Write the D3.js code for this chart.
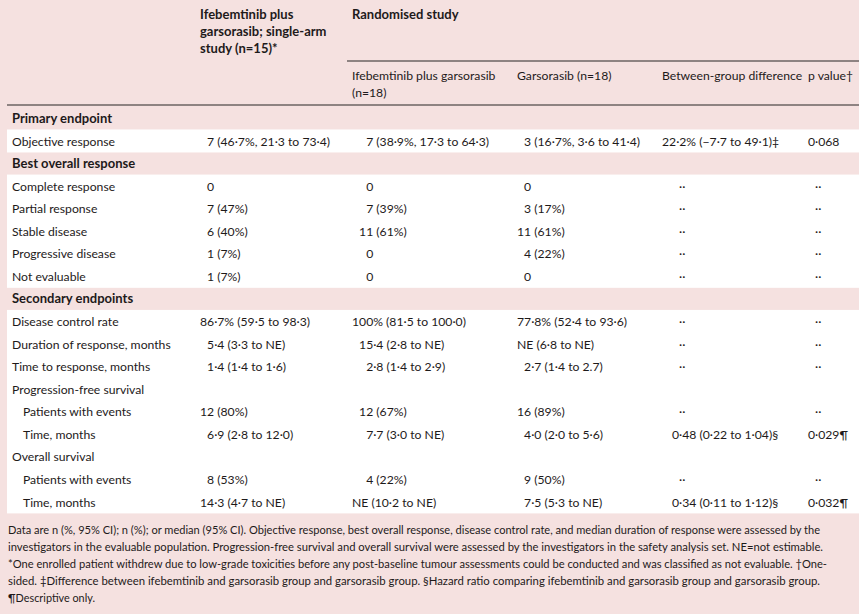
<!DOCTYPE html>
<html><head><meta charset="utf-8">
<script src="https://cdn.jsdelivr.net/npm/d3@7"></script>
<style>
html,body{margin:0;padding:0;background:#f5e1e0;}
svg{display:block;}
text{font-family:Lato,"Liberation Sans",sans-serif;fill:#1e1a1a;}
</style>
</head><body>
<svg id="chart" width="859" height="614"></svg>
<script>
// ---------- data ----------
const FS = "\u2007"; // figure space (digit width)
const PS = "\u2008"; // punctuation space

const columns = ["label", "single", "combo", "garso", "diff", "p"];

const headerSingleArm = ["Ifebemtinib plus", "garsorasib; single-arm", "study (n=15)*"];
const headerRandomised = ["Randomised study"];
const subHeaders = {
  combo: ["Ifebemtinib plus garsorasib", "(n=18)"],
  garso: ["Garsorasib (n=18)"],
  diff: ["Between-group difference"],
  p: ["p value\u2020"]
};

const rowLabels = [
  "Primary endpoint", "Objective response",
  "Best overall response", "Complete response", "Partial response", "Stable disease",
  "Progressive disease", "Not evaluable",
  "Secondary endpoints", "Disease control rate", "Duration of response, months",
  "Time to response, months", "Progression-free survival", "Patients with events",
  "Time, months", "Overall survival", "Patients with events", "Time, months"
];
const rowKinds = [
  "section", "row",
  "section", "row", "row", "row", "row", "row",
  "section", "row", "row", "row", "row", "sub", "sub", "row", "sub", "sub"
];

const colSingleArm = [
  "", FS + "7 (46·7%, 21·3 to 73·4)",
  "", FS + "0", FS + "7 (47%)", FS + "6 (40%)", FS + "1 (7%)", FS + "1 (7%)",
  "", "86·7% (59·5 to 98·3)", FS + "5·4 (3·3 to NE)", FS + "1·4 (1·4 to 1·6)", "",
  "12 (80%)", FS + "6·9 (2·8 to 12·0)", "", FS + "8 (53%)", "14·3 (4·7 to NE)"
];
const colCombo = [
  "", FS + FS + "7 (38·9%, 17·3 to 64·3)",
  "", FS + FS + "0", FS + FS + "7 (39%)", FS + "11 (61%)", FS + FS + "0", FS + FS + "0",
  "", "100% (81·5 to 100·0)", FS + "15·4 (2·8 to NE)", FS + FS + "2·8 (1·4 to 2·9)", "",
  FS + "12 (67%)", FS + FS + "7·7 (3·0 to NE)", "", FS + FS + "4 (22%)", "NE (10·2 to NE)"
];
const colGarso = [
  "", FS + "3 (16·7%, 3·6 to 41·4)",
  "", FS + "0", FS + "3 (17%)", "11 (61%)", FS + "4 (22%)", FS + "0",
  "", "77·8% (52·4 to 93·6)", "NE (6·8 to NE)", FS + "2·7 (1·4 to 2.7)", "",
  "16 (89%)", FS + "4·0 (2·0 to 5·6)", "", FS + "9 (50%)", FS + "7·5 (5·3 to NE)"
];
const DOTS_D = FS + FS + PS + "··";
const colDiff = [
  "", "22·2% (\u22127·7 to 49·1)\u2021",
  "", DOTS_D, DOTS_D, DOTS_D, DOTS_D, DOTS_D,
  "", DOTS_D, DOTS_D, DOTS_D, "",
  DOTS_D, FS + PS + "0·48 (0·22 to 1·04)§", "", DOTS_D, FS + PS + "0·34 (0·11 to 1·12)§"
];
const DOTS_P = FS + "··";
const colP = [
  "", "0·068",
  "", DOTS_P, DOTS_P, DOTS_P, DOTS_P, DOTS_P,
  "", DOTS_P, DOTS_P, DOTS_P, "",
  DOTS_P, "0·029¶", "", DOTS_P, "0·032¶"
];

const footnotes = [
  "Data are n (%, 95% CI); n (%); or median (95% CI). Objective response, best overall response, disease control rate, and median duration of response were assessed by the",
  "investigators in the evaluable population. Progression-free survival and overall survival were assessed by the investigators in the safety analysis set. NE=not estimable.",
  "*One enrolled patient withdrew due to low-grade toxicities before any post-baseline tumour assessments could be conducted and was classified as not evaluable. \u2020One-",
  "sided. \u2021Difference between ifebemtinib and garsorasib group and garsorasib group. §Hazard ratio comparing ifebemtinib and garsorasib group and garsorasib group.",
  "¶Descriptive only."
];
const footnoteEnds = [820, 823, 827, 820, 95];

// ---------- layout ----------
const W = 859, H = 614;
const svg = d3.select("#chart");
const FONT = 12.2;
const BOLD = 13;

const x = d3.scaleOrdinal().domain(columns).range([12, 200, 352, 517, 662, 808]);
const y = d3.scaleLinear().domain([0, rowLabels.length - 1]).range([118.5, 502]);
const baseOff = 4.5;

svg.append("rect").attr("width", W).attr("height", H).attr("fill", "#f5e1e0");

// measure digit and punctuation widths
const meas = svg.append("text").attr("font-size", FONT).attr("visibility", "hidden");
meas.text("0000000000");
const digitW = meas.node().getComputedTextLength() / 10;
meas.text("..........");
const punctW = meas.node().getComputedTextLength() / 10;
meas.remove();

function parsePad(s) {
  let off = 0, i = 0;
  while (i < s.length && (s[i] === FS || s[i] === PS)) {
    off += s[i] === FS ? digitW : punctW;
    i++;
  }
  return { off, txt: s.slice(i) };
}

// white bands for non-section row groups
const groups = [];
rowKinds.forEach((k, i) => {
  if (k === "section") return;
  const last = groups[groups.length - 1];
  if (last && last[1] === i - 1) last[1] = i; else groups.push([i, i]);
});
svg.append("g").selectAll("rect").data(groups).join("rect")
  .attr("x", 7).attr("width", W - 7)
  .attr("y", d => y(d[0]) - 11.6)
  .attr("height", d => y(d[1]) - y(d[0]) + 23)
  .attr("fill", "#ffffff");

// header rules
svg.append("line").attr("x1", x("combo") - 5).attr("x2", W).attr("y1", 61).attr("y2", 61)
  .attr("stroke", "#6b6363").attr("stroke-width", 1.3);
svg.append("line").attr("x1", 7).attr("x2", W).attr("y1", 105).attr("y2", 105)
  .attr("stroke", "#6b6363").attr("stroke-width", 1.3);

// header text
const hdr = svg.append("g").attr("font-size", BOLD).attr("font-weight", "bold");
hdr.selectAll("text.sa").data(headerSingleArm).join("text").attr("class", "sa")
  .attr("x", x("single")).attr("y", (d, i) => 18.5 + i * 17).text(d => d);
hdr.selectAll("text.rs").data(headerRandomised).join("text").attr("class", "rs")
  .attr("x", x("combo")).attr("y", 18.5).text(d => d);

const sub = svg.append("g").attr("font-size", FONT);
Object.entries(subHeaders).forEach(([k, lines]) => {
  sub.selectAll(null).data(lines).join("text")
    .attr("x", x(k)).attr("y", (d, i) => 79.5 + i * 17).text(d => d);
});

// body rows
const body = svg.append("g").attr("font-size", FONT);
body.selectAll("text.lab").data(rowLabels).join("text").attr("class", "lab")
  .attr("x", (d, i) => x("label") + (rowKinds[i] === "sub" ? 11 : 0))
  .attr("y", (d, i) => y(i) + baseOff)
  .attr("font-weight", (d, i) => rowKinds[i] === "section" ? "bold" : "normal")
  .attr("font-size", (d, i) => rowKinds[i] === "section" ? BOLD : FONT)
  .text(d => d);

const valueCols = [["single", colSingleArm], ["combo", colCombo], ["garso", colGarso], ["diff", colDiff], ["p", colP]];
valueCols.forEach(([k, vals]) => {
  body.selectAll(null).data(vals.map((v, i) => ({ v, i })).filter(d => d.v !== "")).join("text")
    .attr("x", d => x(k) + parsePad(d.v).off)
    .attr("y", d => y(d.i) + baseOff)
    .text(d => parsePad(d.v).txt);
});

// footnotes
svg.append("g").attr("font-size", 11.5).selectAll("text").data(footnotes).join("text")
  .attr("x", 8).attr("y", (d, i) => 534 + i * 17)
  .attr("textLength", (d, i) => footnoteEnds[i] - 8)
  .attr("lengthAdjust", "spacingAndGlyphs")
  .text(d => d);
</script>
</body></html>
